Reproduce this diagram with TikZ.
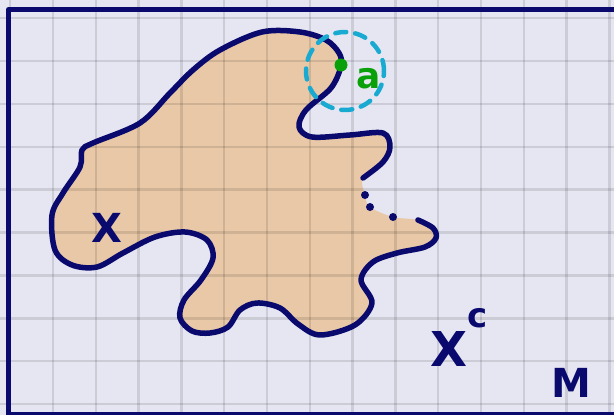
\documentclass[tikz,border=0pt]{standalone}
\usepackage{fontspec}
\setsansfont{DejaVu Sans}
\definecolor{navy}{RGB}{10,10,110}
\definecolor{paper}{RGB}{230,230,242}
\definecolor{blobtan}{RGB}{232,200,166}
\definecolor{nbhd}{RGB}{25,170,210}
\definecolor{ptgreen}{RGB}{10,160,10}
\tikzset{
  hand/.style={font=\sffamily\bfseries, text=navy, inner sep=0pt},
  gridline/.style={black, draw opacity=0.11, line width=2.4pt},
}
\newcommand{\blobpts}{(418,220) (433,228) (436,238) (425,247) (397,253) (373,262) (361,280) (372,303) (355,325) (320,335) (298,324) (280,308) (257,303) (240,310) (228,327) (210,333) (192,331) (180,318) (184,300) (201,280) (213,258) (207,240) (185,232) (155,237) (123,253) (97,267) (72,265) (55,250) (52,215) (63,193) (80,167) (82,150) (93,143) (140,123) (170,93) (193,70) (220,50) (262,32) (300,32) (326,40) (339,53) (341,66) (331,88) (306,110) (299,127) (312,137) (350,135) (383,133) (390,147) (383,162) (363,178)}

\begin{document}
\begin{tikzpicture}[x=1pt, y=-1pt, line cap=round, line join=round]
  \useasboundingbox (0,0) rectangle (614,415);
  % paper
  \fill[paper] (0,0) rectangle (614,415);

  % the set X
  \fill[blobtan] plot[smooth cycle, tension=0.55] coordinates {\blobpts (365,195) (370,207) (393,217)};

  % grid
  \foreach \gx in {0,...,14}
    \draw[gridline] ({10.2+42.8*\gx},0) -- ({10.2+42.8*\gx},415);
  \foreach \gy in {0,...,9}
    \draw[gridline] (0,{18+42.9*\gy}) -- (614,{18+42.9*\gy});

  % outline, with a dotted gap
  \draw[navy, line width=5.5pt] plot[smooth, tension=0.55] coordinates {\blobpts};
  \foreach \p in {(365,195),(370,207),(393,217)}
    \fill[navy] \p circle (4pt);

  % border of M
  \draw[navy, line width=5pt] (8.5,415) -- (8.5,9.5) -- (614,9.5);
  \draw[navy, line width=3.5pt] (8.5,414) -- (614,414);

  % neighbourhood of a
  \node[draw=nbhd, circle, minimum size=78pt, line width=4.5pt, dash pattern=on 11pt off 9pt] (nbhdA) at (345,71) {};
  \node[circle, fill=ptgreen, minimum size=13pt, inner sep=0pt] (pointA) at (341,65) {};
  \node[hand, text=ptgreen, font=\sffamily\bfseries\fontsize{36}{36}\selectfont] (labelA) at (369,79) {a};

  % labels
  \node[hand, font=\sffamily\bfseries\fontsize{40}{40}\selectfont] (labelX) at (107,228) {X};
  \node[hand, font=\sffamily\bfseries\fontsize{48}{48}\selectfont] (labelXc) at (449,349) {X};
  \node[hand, font=\sffamily\bfseries\fontsize{34}{34}\selectfont] (labelc) at (478,318) {c};
  \node[hand, font=\sffamily\bfseries\fontsize{40}{40}\selectfont] (labelM) at (571,383) {M};
\end{tikzpicture}
\end{document}
